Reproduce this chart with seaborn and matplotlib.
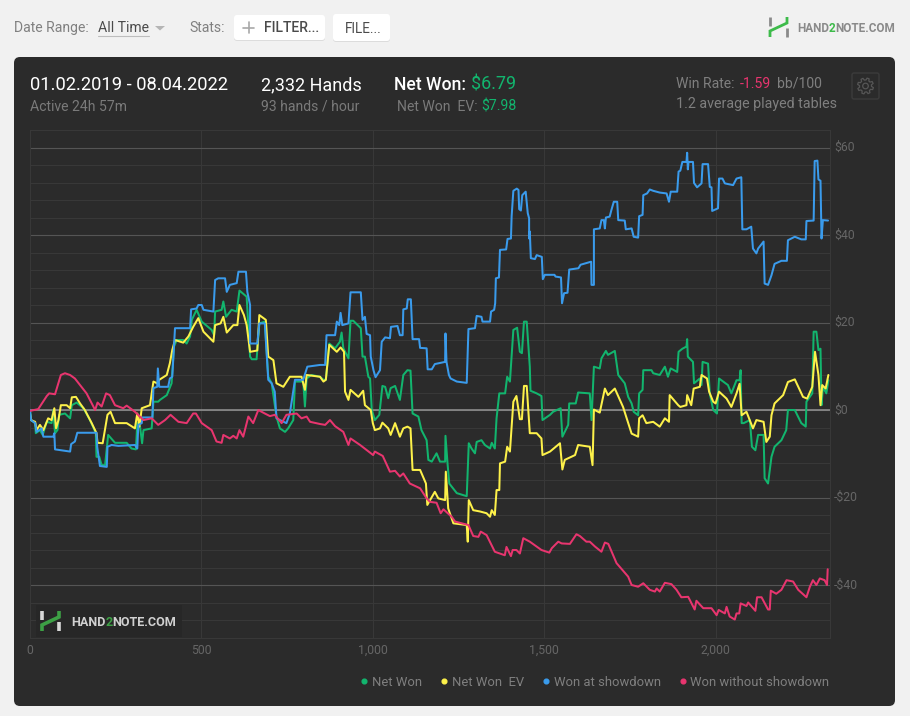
import matplotlib
matplotlib.use("Agg")
import matplotlib.pyplot as plt
from matplotlib.patches import FancyBboxPatch, Rectangle, Circle, Polygon
from matplotlib.lines import Line2D
from matplotlib.ticker import MultipleLocator, FuncFormatter
import numpy as np
import pandas as pd
import seaborn as sns

# (hand number, dollars won)
net_won = [(0,0),(3,-2.3),(15,-3),(17,-5.3),(29,-4.6),(37,-5.7),(49,-2.7),(63,-3),(68,0),(73,-5.3),(80,-4.6),(85,-1.1),(102,-0.8),(117,-1.9),(122,1.1),(136,1.7),(156,0.4),(175,-2.3),(192,-5.3),(194,-10.7),(202,-10.7),(209,-12.6),(219,-12.6),(228,-5.7),(248,-7.5),(282,-7.5),(296,-8.8),(309,-9),(313,-3),(321,-3.8),(327,-7.6),(331,-4.6),(355,-4.2),(360,1.9),(374,1.9),(379,2.3),(399,3.4),(413,6.1),(420,14.5),(428,16),(447,16),(457,15.2),(467,16.8),(472,20.6),(486,22.9),(501,20.2),(530,18.3),(537,17.1),(540,22.5),(559,22.9),(564,24.8),(572,21.3),(588,22.9),(603,22.5),(611,27.3),(632,25.9),(642,12.2),(647,11.6),(661,11.6),(669,19.8),(685,20.2),(695,7.6),(705,6.1),(719,-1.5),(729,-4.2),(744,-5),(753,-4.2),(768,-2.3),(773,6.5),(797,6.5),(802,0.8),(807,7.2),(821,8),
           (846,7.6),(856,6.9),(863,6.9),(873,15.2),(890,14.1),(904,15.6),(909,17.7),(914,14.1),(929,11.8),(935,20.4),(943,20.4),(965,18.7),(970,12.2),(977,12.2),(987,7.6),(992,7.2),(997,0),(1006,-2.3),(1019,-1.1),(1028,5.5),(1036,5.3),(1045,2.7),(1052,5),(1065,5.5),(1079,2.3),(1089,8),(1101,9.1),(1110,9),(1116,-0.8),(1133,-1.5),(1142,-4.6),(1157,-6.9),(1162,-11.4),(1172,-11.8),(1186,-9.9),(1196,-11.8),(1211,-11.8),(1212,-5.9),(1218,-12.2),(1223,-16.8),(1245,-19),(1274,-19.7),(1280,-7.6),(1288,-8.8),(1298,-9.9),(1303,-7.3),(1317,-6.9),(1327,-8),(1342,-8.8),(1347,-7.5),(1356,-8.8),(1361,-1.9),(1369,3.8),(1386,3.8),(1392,7.6),(1400,6.5),(1410,18.3),(1421,18.8),(1429,13.3),(1435,13),(1441,20.2),(1449,20.2),(1458,9.9),(1460,4.4),(1478,3.8),(1492,3.2),(1495,-2.3),(1517,-1.1),(1526,-0.4),(1548,0.4),(1553,-6.1),(1570,-3.4),(1573,1.5),(1592,1.5),(1599,4),
           (1633,3.8),(1638,-2.3),(1645,9.9),(1662,9.5),(1667,11.8),(1680,13.5),(1686,12.6),(1706,13.5),(1716,8),(1735,6.1),(1745,3),(1755,1.5),(1761,-0.4),(1774,-1.2),(1777,3.8),(1787,4.6),(1789,9.1),(1813,9.1),(1818,8.4),(1837,8),(1852,9.9),(1861,7.6),(1869,9.5),(1888,8.7),(1892,13.3),(1903,14),(1915,14.5),(1917,16.2),(1919,12.2),(1934,11),(1937,6.1),(1954,7.2),(1959,5.7),(1962,11),(1978,10.6),(1983,3.8),(1993,0),(2004,-0.8),(2010,7.2),(2022,6.5),(2036,5.7),(2046,3.8),(2061,6.8),(2070,6.8),(2073,9.1),(2076,-3),(2082,-3),(2100,-2.3),(2106,-8.4),(2116,-9.2),(2124,-5.7),(2140,-5.7),(2143,-15.6),(2153,-16.8),(2163,-10.7),(2172,-8.4),(2192,-6.9),(2206,-4.6),(2211,0),(2231,0),(2250,-3),(2263,-3.8),(2265,1.9),(2282,3.8),(2286,17.9),(2294,17.9),(2300,13.7),(2306,14),(2309,1.1),(2313,5.3),(2323,3.8),(2329,6.8)]

net_won_ev = [(0,-0.8),(3,-2.3),(15,-2.7),(19,-4.6),(29,-3.4),(39,-4.6),(53,-1.9),(63,-2.3),(71,0.4),(76,-4.2),(83,-2.3),(90,1.1),(107,1.1),(117,0.4),(122,2.9),(134,3),(146,1.5),(160,0),(180,-3),(194,-5.3),(197,-7.5),(212,-7.6),(226,-1.1),(235,-0.4),(248,-3),(282,-3),(306,-4.2),(313,-0.8),(319,-3.8),(326,0.4),(350,1.1),(357,5),(360,6.5),(371,6.1),(377,6.9),(399,8),(408,10.7),(415,13.7),(423,16),(447,15.4),(462,16.8),(476,19),(491,21),(506,17.9),(535,15.6),(540,19.4),(556,19.8),(564,21.3),(574,17.7),(593,19.4),(605,19.4),(611,24),(624,21.7),(632,19.4),(642,13.3),(663,13.6),(669,21.7),(688,20.6),(695,12.2),(710,11.4),(719,6.1),(739,5.3),(758,7.6),(792,7.6),(802,4.6),(807,8),
              (846,7.6),(856,6.5),(863,6.9),(873,14.9),(895,13.3),(906,14.3),(916,13.3),(919,4.2),(929,2.3),(935,4.6),(958,3),(972,4.4),(977,1.1),(994,0),(1000,-3),(1006,-4.6),(1021,-4.2),(1028,-2.9),(1045,-4.2),(1052,-5.7),(1065,-3),(1079,-6.1),(1089,-4.2),(1101,-3.8),(1110,-4.2),(1116,-13.7),(1138,-13.7),(1155,-16.8),(1159,-21.7),(1181,-18.7),(1191,-20.2),(1211,-20.6),(1213,-14.1),(1220,-22.5),(1235,-25.9),(1274,-26.3),(1277,-30.1),(1280,-20.6),(1293,-22.9),(1313,-23.2),(1332,-23.6),(1342,-24.4),(1347,-22.9),(1356,-24),(1361,-18.3),(1369,-18.3),(1371,-12.2),(1386,-11.8),(1392,-8.4),(1400,-9.5),(1410,1.9),(1419,3.2),(1429,-2.1),(1435,-2.1),(1441,5.5),(1449,5.5),(1458,-5.3),(1478,-5.3),(1492,-6.5),(1495,-10.3),(1517,-9.5),(1546,-7.6),(1553,-13.6),(1560,-11.4),(1590,-10.3),(1599,-8),
              (1633,-8.4),(1641,-12.6),(1645,0.1),(1662,-0.6),(1677,4.9),(1686,3.4),(1706,4.9),(1730,0.7),(1745,-3),(1755,-5.4),(1774,-6.1),(1777,-1.9),(1787,-1.2),(1798,-3),(1818,-2.7),(1837,-3.8),(1852,-1.9),(1864,-2.7),(1866,3.4),(1891,1.1),(1897,0.7),(1915,1.1),(1917,3.4),(1929,1.1),(1936,4.9),(1954,5.3),(1959,8),(1975,7.2),(1981,4.2),(1993,1.9),(2000,1.5),(2010,4.2),(2032,2.6),(2046,0.7),(2061,3.8),(2070,6),(2076,-1.2),(2090,-0.4),(2109,-4.2),(2119,-2.3),(2140,-2.7),(2148,-7.3),(2158,-6.1),(2163,-1.2),(2172,1.5),(2197,3.4),(2211,6.4),(2231,7),(2255,3),(2267,2.6),(2282,5.3),(2290,13.3),(2300,8),(2306,1.1),(2311,5.7),(2321,4.9),(2329,8)]

won_showdown = [(0,0),(3,-2.3),(15,-3),(19,-5),(34,-4.2),(39,-6.1),(68,-6.1),(71,-5.3),(73,-9),(117,-9.5),(120,-7.8),(131,-7.2),(138,-5.2),(194,-5.2),(196,-8.4),(204,-12.8),(224,-13),(226,-8.4),(238,-8),(258,-8.2),(306,-8),(313,-8.8),(316,-3.4),(326,-3),(328,-1.7),(357,-1.7),(360,5),(371,5.3),(373,9.5),(377,5.3),(403,5.3),(408,7.2),(415,7.6),(423,18.7),(467,18.7),(470,23),(486,23.2),(491,24),(501,24),(506,22.9),(535,22.5),(540,29.7),(549,30.1),(569,30.1),(574,27),(583,28.6),(603,29),(608,31.6),(630,31.6),(634,27),(642,24),(642,15.2),(663,15.2),(669,19.8),(685,19.8),(695,6.9),(705,6.1),(714,4.2),(719,-1.9),(729,-2.3),(748,-3),(758,-0.8),(773,6.9),(797,6.9),(809,9.9),(846,10.3),
                (861,10.3),(865,17.1),(890,17.1),(895,20.2),(902,19.4),(906,22.2),(911,19.4),(929,19.8),(935,26.9),(965,26.9),(970,20.6),(977,21.3),(982,17.4),(992,17.1),(994,12.2),(1002,9.1),(1008,7.5),(1021,9.1),(1026,15.6),(1036,16.6),(1050,16.4),(1053,19),(1072,19.2),(1079,17.1),(1087,17.1),(1089,23),(1099,23.2),(1102,25.3),(1111,25.3),(1116,16.2),(1135,16.2),(1138,14.2),(1157,14.1),(1160,9.3),(1172,9.3),(1181,10.5),(1211,11),(1212,17.5),(1215,11),(1222,8),(1227,7.2),(1245,6.5),(1274,6.2),(1279,18.5),(1298,18.7),(1303,21.5),(1317,21.3),(1320,20.2),(1342,20.2),(1345,22.5),(1354,22.9),
                (1357,24.4),(1359,30.1),(1368,30.3),(1371,36.6),(1389,36.7),(1393,39.1),(1403,39.2),(1405,44.3),(1410,50.1),(1420,50.6),(1425,50.3),(1427,45.9),(1432,45.6),(1436,49.1),(1446,49.9),(1452,45),(1456,43.8),(1456,39.2),(1458,40.8),(1461,34.7),(1473,34.5),(1478,35.4),(1493,35),(1496,29.9),(1502,30.9),(1530,30.9),(1533,30.5),(1549,30.3),(1552,24.4),(1558,26.7),(1568,26.8),(1573,32.1),(1600,32.4),(1606,33.2),(1619,33.5),(1637,33.9),
                (1638,28.6),(1645,28.6),(1645,41.3),(1662,41.5),(1667,43.4),(1674,43.4),(1677,41.5),(1680,44),(1691,44.2),(1696,45.7),(1703,47.6),(1713,47.6),(1716,43.4),(1735,43.3),(1738,41.3),(1755,41.5),(1761,39.6),(1774,39.4),(1777,44.3),(1787,44.6),(1789,49.1),(1800,49.5),(1808,50.4),(1818,50.1),(1837,49.7),(1857,49.5),(1864,47.6),(1869,49.9),(1888,49.9),(1892,54.5),(1897,54.7),(1903,56.7),(1915,56.7),(1917,58.8),(1919,55),(1921,56.7),(1934,56.7),(1937,51.9),(1946,50.9),(1959,51.8),(1962,56.2),(1978,56.2),(1983,51),(1988,50.9),(1990,45.5),(2007,46.1),(2010,52.9),(2020,52.9),(2027,51.8),(2051,51.4),(2061,52.9),(2075,53.2),(2078,41.3),(2090,41.3),(2104,41.9),(2109,36.9),(2119,35.8),(2124,36.9),(2140,38.5),(2143,28.9),(2153,28.6),(2163,30.8),(2172,33.4),(2192,34.1),(2208,34.1),(2211,38.8),(2231,39.6),(2250,39),(2263,39),(2265,43.2),(2286,43.3),(2289,56.9),(2297,57),(2300,52.7),(2306,52.4),(2309,39.2),(2313,43.4),(2328,43.3)]

won_no_showdown = [(0,-0.2),(24,0.2),(34,1.4),(49,3.2),(56,3.8),(73,3.6),(90,8),(102,8.4),(117,8),(131,7.2),(146,5.7),(165,3.8),(190,0),(197,1.7),(209,0.8),(222,3.8),(233,3.4),(248,1.1),(272,0.4),(282,1),(306,-0.4),(331,-2.3),(355,-1.9),(374,-3.4),(394,-2.3),(410,-1.1),(433,-2.7),(457,-3),(476,-0.8),(484,-0.8),(501,-3),(530,-4.6),(544,-7.2),(559,-7.5),(564,-5.7),(583,-6.5),(593,-5.9),(603,-6.5),(611,-4.6),(622,-6.1),(637,-1.5),(651,-3),(666,0),(685,-0.8),(700,-1.4),(714,-1.1),(734,-3),(748,-1.1),(778,-0.8),(792,-1.9),(807,-1.5),(817,-2.7),
                   (846,-3.2),(861,-3.4),(875,-2.3),(890,-3.7),(914,-5),(929,-8),(935,-6.5),(963,-8),(1001,-10.3),(1006,-9.5),(1029,-10.5),(1050,-14.1),(1065,-13.9),(1079,-15.2),(1089,-14.5),(1108,-16.8),(1138,-17.9),(1157,-20.2),(1167,-21),(1186,-21.2),(1198,-23.6),(1206,-22.7),(1230,-24.4),(1240,-25.5),(1279,-26.3),(1293,-28.8),(1308,-29),(1315,-27.8),(1332,-28.6),(1356,-32.4),(1385,-33.2),(1390,-31.3),(1403,-33.4),(1408,-32),(1419,-32),(1429,-32.8),(1439,-29.3),(1458,-30.1),(1492,-32),(1515,-32.6),(1522,-31.6),(1541,-30.1),(1551,-30.5),(1575,-30.6),(1594,-28.4),
                   (1604,-28.8),(1623,-30.1),(1633,-30.1),(1648,-31.2),(1667,-32.4),(1677,-30.3),(1687,-30.6),(1711,-35),(1745,-38.1),(1755,-40),(1774,-40.4),(1789,-39.6),(1808,-41.1),(1823,-41.5),(1828,-40.8),(1837,-41.5),(1852,-39.5),(1871,-39.8),(1886,-41.1),(1900,-42.8),(1920,-42.7),(1939,-45.6),(1944,-43.6),(1964,-45.3),(1988,-45.3),(2003,-46.9),(2009,-45.7),(2027,-46.5),(2032,-45),(2041,-47.2),(2056,-47.9),(2061,-46.5),(2069,-46.5),(2073,-44.2),(2090,-44.8),(2095,-44),(2116,-45.9),(2121,-42.8),(2134,-42.8),(2153,-45.6),(2158,-45.6),(2161,-41.3),(2177,-42),(2192,-41.1),(2207,-38.9),(2226,-39.2),(2241,-41.1),(2265,-42.8),(2275,-40.4),(2284,-38.9),(2294,-40),(2304,-38.5),(2318,-38.9),(2325,-40),(2327,-36.4)]

series_names = ["Net Won", "Net Won  EV", "Won at showdown", "Won without showdown"]
series_data = [net_won, net_won_ev, won_showdown, won_no_showdown]
series_colors = ["#12b56e", "#fdf14a", "#3a9bec", "#e8356f"]

W, H = 910, 716
GREEN, PINK = "#12b56e", "#e8356f"

sns.set_theme(style="dark")
plt.rcParams["font.family"] = ["Roboto", "DejaVu Sans"]

fig = plt.figure(figsize=(W / 100, H / 100), dpi=100, facecolor="#f1f1f1")


def pixel_layer(z):
    layer = fig.add_axes([0, 0, 1, 1], zorder=z)
    layer.set_xlim(0, W)
    layer.set_ylim(H, 0)
    layer.axis("off")
    return layer


bg = pixel_layer(0)
fg = pixel_layer(2)


def label(x, y, s, size, color, ha="left", weight="normal"):
    bg.text(x, y + 0.9, s, fontsize=size * 0.72, color=color, ha=ha, va="center", fontweight=weight)


def rounded(x0, y0, x1, y1, r, **kw):
    bg.add_patch(FancyBboxPatch((x0 + r, y0 + r), x1 - x0 - 2 * r, y1 - y0 - 2 * r,
                                boxstyle=f"round,pad={r},rounding_size={r}", **kw))


def logo(layer, x, y, mark_a, mark_b, text_color, size, gap, lw):
    # H-shaped mark, then the name with a green 2
    layer.plot([x + 1, x + 1], [y - 10, y - 1], color=mark_a, lw=lw, solid_capstyle="butt")
    layer.plot([x + 18, x + 18], [y + 1, y + 10], color=mark_a, lw=lw, solid_capstyle="butt")
    layer.plot([x + 1, x + 1, x + 18, x + 18], [y + 10, y + 4, y - 4, y - 10], color=mark_b, lw=lw,
               solid_capstyle="butt", solid_joinstyle="miter")
    t1 = layer.text(x + gap, y + 1, "HAND", fontsize=size * 0.72, color=text_color, va="center", fontweight="bold")
    t2 = layer.annotate("2", xy=(1, 0), xycoords=t1, va="bottom", fontsize=size * 0.72, color=mark_b, fontweight="bold")
    layer.annotate("NOTE.COM", xy=(1, 0), xycoords=t2, va="bottom", fontsize=size * 0.72, color=text_color, fontweight="bold")


# card
rounded(14, 57, 895, 706, 6, fc="#2b2b2b", ec="none")

# toolbar
label(14, 27, "Date Range:", 14, "#808080")
label(98, 27, "All Time", 14, "#4a4a4a")
bg.plot([98, 149], [35.5, 35.5], color="#bdbdbd", lw=0.8)
bg.add_patch(Polygon([(155, 26), (165, 26), (160, 30.5)], fc="#b5b5b5", ec="none"))
label(189, 27, "Stats:", 14, "#808080")
for box in [(234, 15, 325, 40), (333, 14, 390, 41)]:
    rounded(box[0], box[1] + 1, box[2], box[3] + 1, 3, fc="#dcdcdc", ec="none")
    rounded(box[0], box[1], box[2], box[3], 3, fc="white", ec="none")
bg.plot([243, 254], [27.5, 27.5], color="#a8a8a8", lw=1.2)
bg.plot([248.5, 248.5], [22, 33], color="#a8a8a8", lw=1.2)
label(264, 27, "FILTER...", 14, "#4a4a4a", weight="medium")
label(345, 28, "FILE...", 13.5, "#4a4a4a")
logo(bg, 769, 27, "#8a8a8a", "#3dbb4a", "#8a8a8a", 11.7, 28, 2.0)

# header of the card
label(30, 84, "01.02.2019 - 08.04.2022", 18.35, "white")
label(30, 106, "Active 24h 57m", 14, "#7a7a7a")
label(261, 84, "2,332 Hands", 18, "white")
label(261, 106, "93 hands / hour", 14, "#7a7a7a")
label(394, 84, "Net Won:", 17.6, "white", weight="medium")
label(471, 84, "$6.79", 18, GREEN)
label(397, 106, "Net Won  EV:", 14, "#7a7a7a")
label(481, 106, "$7.98", 14, GREEN)
label(676, 83, "Win Rate:", 14, "#7f7f7f")
label(740, 83, "-1.59", 14, PINK)
label(777, 83, "bb/100", 14, "#7f7f7f")
label(676, 103, "1.2 average played tables", 14.2, "#7f7f7f")
rounded(852, 73, 879, 99, 2, fc="none", ec="#3b3b3b", lw=1)
gear_angles = np.linspace(0, 2 * np.pi, 48, endpoint=False)
gear_radii = np.where((np.arange(48) % 6) < 3, 8.0, 6.0)
bg.add_patch(Polygon(np.column_stack([865.5 + gear_radii * np.cos(gear_angles + 0.2),
                                      86 + gear_radii * np.sin(gear_angles + 0.2)]),
                     closed=True, fc="none", ec="#565656", lw=0.9))
bg.add_patch(Circle((865.5, 86), 2.8, fc="none", ec="#565656", lw=0.9))

# watermark above the grid
fg.add_patch(Rectangle((36, 605), 146, 32, fc="#272727", ec="none"))
logo(fg, 41, 621, "#d8d8d8", "#3da045", "#d0d0d0", 12.6, 30, 2.6)

# chart
left, right, top, bottom = 30, 829.5, 130, 637.5
ax = fig.add_axes([left / W, 1 - bottom / H, (right - left) / W, (bottom - top) / H], zorder=1)
ax.set_facecolor("none")

frames = [pd.DataFrame(points, columns=["hands", "won"]).assign(series=name)
          for name, points in zip(series_names, series_data)]
data = pd.concat(frames, ignore_index=True)
sns.lineplot(data=data, x="hands", y="won", hue="series", hue_order=series_names,
             palette=series_colors, estimator=None, sort=False, lw=1.45, legend=False, ax=ax, zorder=3)

x_per_px = 500 / 171.4
ax.set_xlim(0, (right - left) * x_per_px)
ax.set_ylim(-(bottom - 410) / 4.375, (410 - top) / 4.375)
ax.set_xlabel("")
ax.set_ylabel("")

ax.xaxis.set_major_locator(MultipleLocator(500))
ax.xaxis.set_major_formatter(FuncFormatter(lambda v, _: f"{int(v):,}"))
ax.yaxis.set_major_locator(MultipleLocator(20))
ax.yaxis.set_minor_locator(MultipleLocator(4))
ax.yaxis.set_major_formatter(FuncFormatter(lambda v, _: f"-${int(-v)}" if v < 0 else f"${int(v)}"))
ax.yaxis.tick_right()
ax.tick_params(axis="x", which="major", length=0, labelsize=8.8, labelcolor="#666666", pad=4.5)
ax.tick_params(axis="y", which="major", length=0, labelsize=8.8, labelcolor="#666666", pad=3.2)
ax.tick_params(axis="y", which="minor", length=0)
for tick in ax.get_yticklabels():
    tick.set_va("center")
ax.grid(False)
ax.grid(True, axis="x", which="major", color="#383838", lw=0.75)
ax.grid(True, axis="y", which="minor", color="#383838", lw=0.75)
ax.grid(True, axis="y", which="major", color="#555555", lw=0.8)
ax.set_axisbelow(True)
ax.axhline(0, color="#8c8c8c", lw=1.2, zorder=2)
for side, on in {"top": False, "left": True, "right": True, "bottom": True}.items():
    ax.spines[side].set_visible(on)
    ax.spines[side].set_color("#383838")
    ax.spines[side].set_linewidth(0.75)

handles = [Line2D([], [], ls="none", marker="o", ms=3.4, color=c) for c in series_colors]
leg = ax.legend(handles, series_names, ncol=4, frameon=False, loc="center right",
                fontsize=9.4, labelcolor="#7f7f7f", handlelength=0.4, handletextpad=0.4,
                columnspacing=1.48, borderaxespad=0, borderpad=0)
leg.set_bbox_to_anchor((right / W, 1 - 682.5 / H), transform=fig.transFigure)

fig.savefig("out.png", dpi=100, facecolor=fig.get_facecolor())
